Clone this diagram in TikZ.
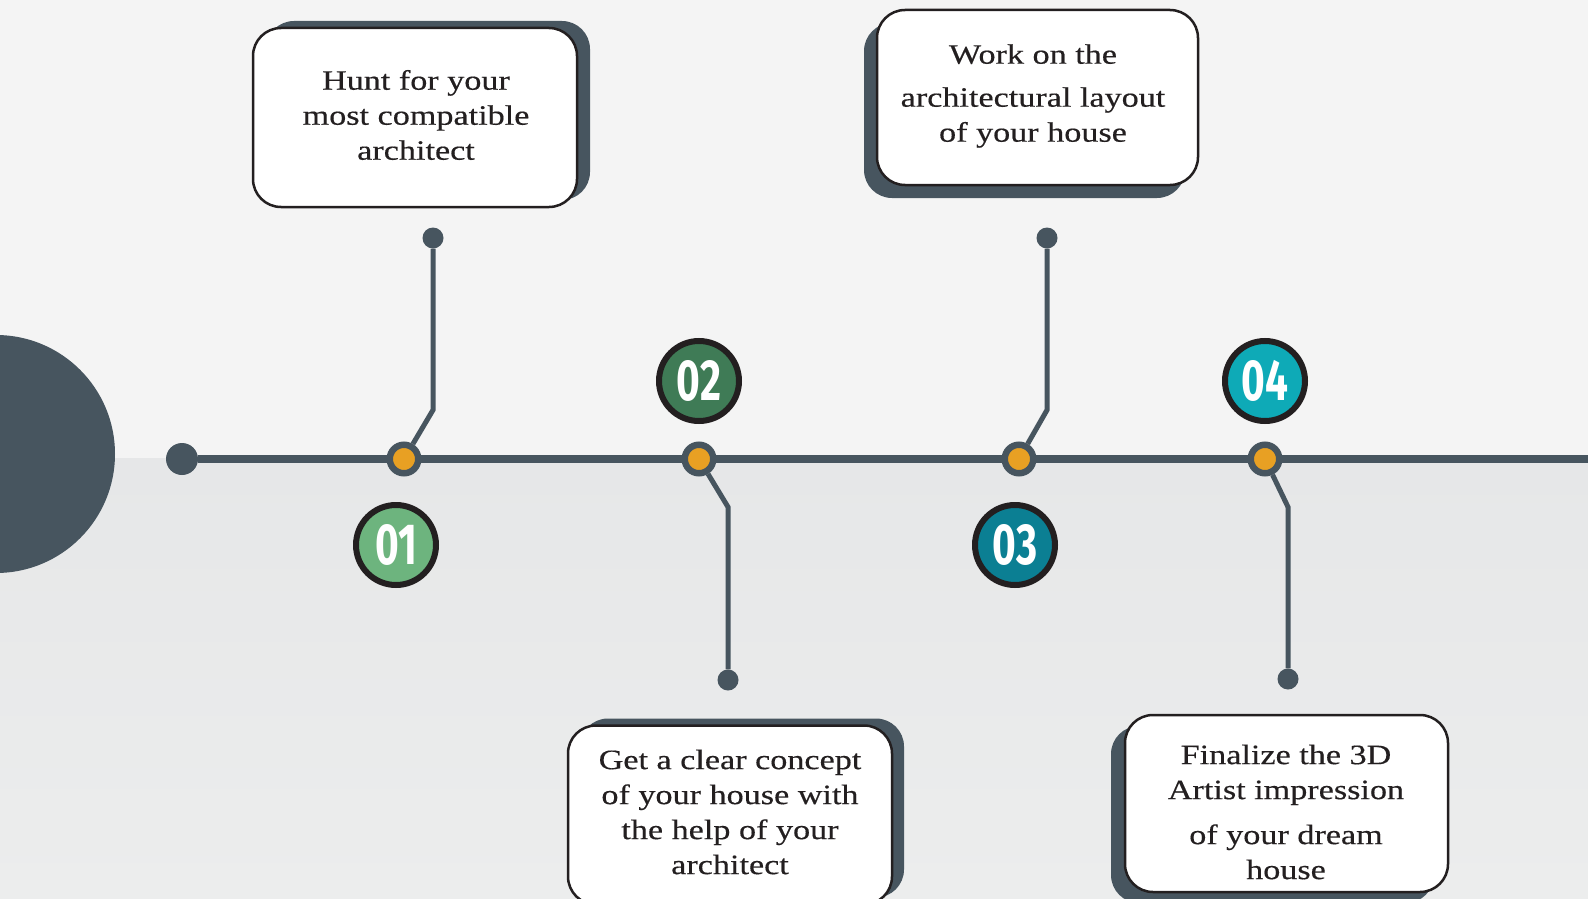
\documentclass[tikz,border=0pt]{standalone}
\usepackage{fontspec}
\setmainfont{Liberation Serif}[FakeStretch=1.22,FakeBold=0.4]
\newfontfamily\numfont{Fira Sans}[FakeStretch=0.7]
\usepackage{tikz}
\usetikzlibrary{positioning,calc,shadows}

\definecolor{slate}{HTML}{47555F}
\definecolor{gold}{HTML}{E8A023}
\definecolor{ink}{HTML}{231F20}
\definecolor{leaf}{HTML}{6DB47E}
\definecolor{forest}{HTML}{3F7B56}
\definecolor{sea}{HTML}{0B7F93}
\definecolor{aqua}{HTML}{0EAAB7}
\definecolor{paper}{HTML}{F4F4F4}
\definecolor{floorA}{HTML}{E6E7E8}
\definecolor{floorB}{HTML}{ECEDED}

\begin{document}
\begin{tikzpicture}[x=1pt,y=-1pt,
  stop/.style={circle,fill=gold,draw=slate,line width=6.5pt,minimum size=28.5pt,inner sep=0pt},
  pin/.style={circle,fill=slate,minimum size=21pt,inner sep=0pt},
  link/.style={slate,line width=5pt},
  num/.style={circle,draw=ink,line width=6pt,minimum size=80pt,inner sep=0pt,text=white,
    font=\numfont\bfseries\fontsize{58}{58}\selectfont},
  card/.style={rounded corners=28pt,draw=ink,line width=2.5pt,fill=white,
    minimum width=324pt,minimum height=179pt},
  label/.style={text=ink,align=center,font=\fontsize{28}{35}\selectfont}]

\path[use as bounding box] (0,0) rectangle (1588,899);
\clip (0,0) rectangle (1588,899);

% background
\fill[paper] (0,0) rectangle (1588,458);
\shade[top color=floorA,bottom color=floorB] (0,458) rectangle (1588,899);

\node[circle,fill=slate,minimum size=238pt,inner sep=0pt] (hub) at (-4,454) {};

% timeline
\node[pin,minimum size=32pt] (start) at (182,459) {};
\coordinate (tail) at (1600,459);
\draw[slate,line width=8.5pt] (start) -- (tail);

\node[stop] (d1) at (404,459) {};
\node[stop] (d2) at (699,459) {};
\node[stop] (d3) at (1019,459) {};
\node[stop] (d4) at (1265,459) {};

\coordinate (k1) at (433,410);
\coordinate (k2) at (728,507);
\coordinate (k3) at (1047,410);
\coordinate (k4) at (1288,507);

\node[pin] (e1) at (433,238) {};
\node[pin] (e2) at (728,680) {};
\node[pin] (e3) at (1047,238) {};
\node[pin] (e4) at (1288,679) {};

\draw[link] (d1) -- (k1) -- (e1);
\draw[link] (d2) -- (k2) -- (e2);
\draw[link] (d3) -- (k3) -- (e3);
\draw[link] (d4) -- (k4) -- (e4);

\node[num,fill=leaf] (n1) at (396,545) {01};
\node[num,fill=forest] (n2) at (699,381) {02};
\node[num,fill=sea] (n3) at (1015,545) {03};
\node[num,fill=aqua] (n4) at (1265,381) {04};

% cards
\node[card,drop shadow={fill=slate,opacity=1,shadow xshift=13pt,shadow yshift=7pt}]
  (box1) at (415,117.5) {};
\node[card,drop shadow={fill=slate,opacity=1,shadow xshift=12pt,shadow yshift=7pt}]
  (box2) at (730,815) {};
\node[card,minimum width=321pt,minimum height=175pt,
  drop shadow={fill=slate,opacity=1,shadow xshift=-13pt,shadow yshift=-13pt}]
  (box3) at (1037.5,97.5) {};
\node[card,minimum width=323pt,minimum height=177pt,
  drop shadow={fill=slate,opacity=1,shadow xshift=-14pt,shadow yshift=-11pt}]
  (box4) at (1286.5,803.5) {};

\node[label] (txt1) at (416,115) {Hunt for your\\most compatible\\architect};
\node[label] (txt2) at (730,812) {Get a clear concept\\of your house with\\the help of your\\architect};
\node[label] (txt3) at (1033,96) {Work on the\\[8pt]architectural layout\\of your house};
\node[label] (txt4) at (1286,812) {Finalize the 3D\\Artist impression\\[10pt]of your dream\\house};
\end{tikzpicture}
\end{document}
